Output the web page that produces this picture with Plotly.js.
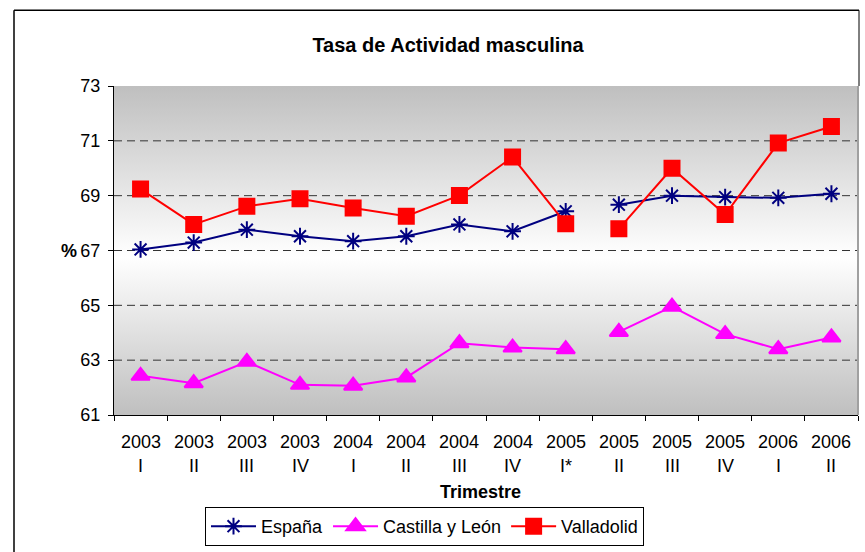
<!DOCTYPE html>
<html>
<head>
<meta charset="utf-8">
<script src="https://cdn.plot.ly/plotly-3.0.1.min.js"></script>
<style>html,body{margin:0;padding:0;background:#fff;}#chart{width:865px;height:552px;}</style>
</head>
<body>
<div id="chart"></div>
<script>
const years = ["2003","2003","2003","2003","2004","2004","2004","2004","2005","2005","2005","2005","2006","2006"];
const quarters = ["I","II","III","IV","I","II","III","IV","I*","II","III","IV","I","II"];
const espana = [67.04,67.29,67.76,67.52,67.34,67.52,67.95,67.70,68.43,68.67,69.00,68.95,68.92,69.07];
const castilla = [62.43,62.16,62.94,62.10,62.07,62.37,63.62,63.46,63.40,64.03,64.95,63.95,63.40,63.83];
const valladolid = [69.24,67.95,68.61,68.89,68.55,68.25,69.01,70.41,67.98,67.79,70.00,68.31,70.92,71.52];
const breakAfter = 8; // series break between "2005 I*" and "2005 II"
const gridValues = [63,65,67,69,71];

const cats = years.map((y,i)=> y + " " + quarters[i]);
const FONT = 'Liberation Sans, Arial, sans-serif';

function seg(name, vals, color, symbol, size, group) {
  const parts = [[0, breakAfter+1],[breakAfter+1, vals.length]];
  return parts.map((p,k)=>({
    type:'scatter', mode:'lines+markers', name:name, legendgroup:group, showlegend:k===0,
    x:cats.slice(p[0],p[1]), y:vals.slice(p[0],p[1]),
    line:{color:color,width:2},
    marker:{symbol:symbol,size:size,color:color,line:{color:color,width:2}},
    hoverinfo:'x+y'
  }));
}

const data = [].concat(
  seg('España', espana, '#000080', 'asterisk-open', 14, 'e'),
  seg('Castilla y León', castilla, '#FF00FF', 'triangle-up', 16, 'c'),
  seg('Valladolid', valladolid, '#FF0000', 'square', 15, 'v')
);

const W=865,H=552,L=114,R=7,T=86,B=136;
const pw=W-L-R, ph=H-T-B;
const px=(x)=>(x-L)/pw, py=(y)=>(H-B-y)/ph;

const svg = '<svg xmlns="http://www.w3.org/2000/svg" width="10" height="100" preserveAspectRatio="none"><defs><linearGradient id="g" x1="0" y1="0" x2="0" y2="1"><stop offset="0" stop-color="#bfbfbf"/><stop offset="0.52" stop-color="#ffffff"/><stop offset="1" stop-color="#bfbfbf"/></linearGradient></defs><rect width="10" height="100" fill="url(#g)"/></svg>';

const annotations = [];
cats.forEach((c,i)=>{
  annotations.push({x:c,xref:'x',y:py(443),yref:'paper',text:years[i],showarrow:false,font:{family:FONT,size:18,color:'#000'},xanchor:'center',yanchor:'middle'});
  annotations.push({x:c,xref:'x',y:py(467),yref:'paper',text:quarters[i],showarrow:false,font:{family:FONT,size:18,color:'#000'},xanchor:'center',yanchor:'middle'});
});
annotations.push({x:px(480),xref:'paper',y:py(493),yref:'paper',text:'<b>Trimestre</b>',showarrow:false,font:{family:FONT,size:18,color:'#000'},xanchor:'center',yanchor:'middle'});
annotations.push({x:px(79),xref:'paper',y:67,yref:'y',text:'<b>%</b>',showarrow:false,font:{family:FONT,size:18,color:'#000'},xanchor:'right',yanchor:'middle'});

const shapes = gridValues.map(v=>({type:'line',xref:'paper',x0:0,x1:1,yref:'y',y0:v,y1:v,layer:'below',line:{color:'#333333',width:1,dash:'8px,5px'}}));
shapes.push({type:'line',xref:'paper',x0:1,x1:1,yref:'paper',y0:0,y1:1,line:{color:'#a0a0a0',width:2}});
// chart frame
shapes.push({type:'line',xref:'paper',yref:'paper',x0:px(14),x1:px(14),y0:py(10),y1:py(560),line:{color:'#000',width:1.5}});
shapes.push({type:'line',xref:'paper',yref:'paper',x0:px(14),x1:px(859),y0:py(10),y1:py(10),line:{color:'#000',width:1.5}});
shapes.push({type:'line',xref:'paper',yref:'paper',x0:px(859),x1:px(859),y0:py(10),y1:1,line:{color:'#000',width:1}});

const layout = {
  width:W,height:H,
  margin:{l:L,r:R,t:T,b:B},
  paper_bgcolor:'#fff',
  plot_bgcolor:'rgba(0,0,0,0)',
  font:{family:FONT,size:18,color:'#000'},
  title:{text:'<b>Tasa de Actividad masculina</b>',font:{family:FONT,size:20,color:'#000'},x:448/W,xref:'container',xanchor:'center',y:1-45/H,yref:'container',yanchor:'middle'},
  xaxis:{type:'category',categoryorder:'array',categoryarray:cats,range:[-0.5,13.5],showticklabels:false,ticks:'outside',ticklen:5,tickcolor:'#000',tickson:'boundaries',showline:true,linecolor:'#000',linewidth:1,showgrid:false,zeroline:false,fixedrange:true},
  yaxis:{range:[61,73],dtick:2,tick0:61,ticks:'outside',ticklen:5,tickcolor:'#000',showline:true,linecolor:'#000',linewidth:1,showgrid:false,zeroline:false,ticklabelstandoff:4,tickfont:{family:FONT,size:18,color:'#000'},fixedrange:true},
  showlegend:true,
  legend:{orientation:'h',x:px(205),y:py(507),xanchor:'left',yanchor:'top',bordercolor:'#000',borderwidth:1,bgcolor:'#fff',font:{family:FONT,size:18,color:'#000'},itemwidth:45,traceorder:'normal',tracegroupgap:0},
  images:[{source:'data:image/svg+xml;charset=utf-8,'+encodeURIComponent(svg),xref:'paper',yref:'paper',x:0,y:1,sizex:1,sizey:1,xanchor:'left',yanchor:'top',sizing:'stretch',layer:'below'}],
  shapes:shapes,
  annotations:annotations
};

Plotly.newPlot('chart', data, layout, {displayModeBar:false,staticPlot:true});
</script>
</body>
</html>
